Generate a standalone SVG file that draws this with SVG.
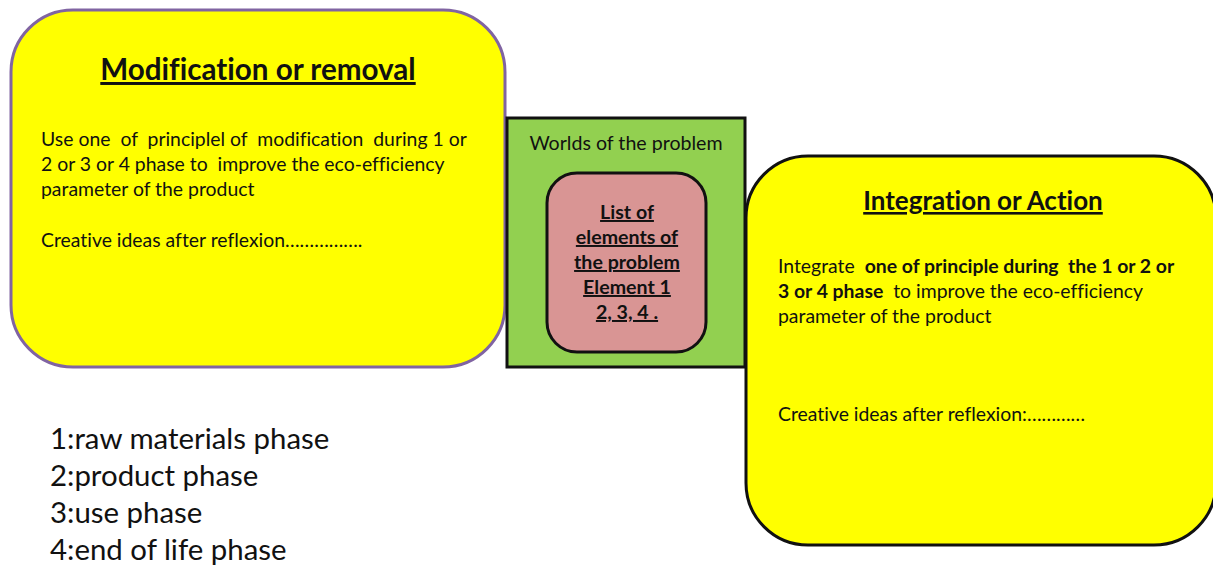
<svg xmlns="http://www.w3.org/2000/svg" width="1213" height="566" viewBox="0 0 1213 566">
<style>
text{font-family:Lato,"Open Sans","Liberation Sans",sans-serif;fill:#111;font-variant-ligatures:none}
.body{font-size:19.4px}
.ttl{font-weight:bold;text-decoration:underline}
.pk{font-size:19.6px;font-weight:bold;text-decoration:underline;text-anchor:middle}
.leg{font-size:29.4px}
</style>
<rect width="1213" height="566" fill="#fff"/>
<g id="modification">
<rect x="11" y="10" width="494" height="357" rx="62" fill="#ffff00" stroke="#8064a2" stroke-width="3"/>
<text x="258" y="80" class="ttl" font-size="29.6" text-anchor="middle">Modification or removal</text>
<text class="body"><tspan x="41" y="146" xml:space="preserve">Use one  of  principlel of  modification  during 1 or</tspan><tspan x="41" y="171" xml:space="preserve">2 or 3 or 4 phase to  improve the eco-efficiency</tspan><tspan x="41" y="196">parameter of the product</tspan><tspan x="41" y="247">Creative ideas after reflexion…………….</tspan></text>
</g>
<g id="worlds">
<rect x="507" y="118" width="238" height="249" fill="#92d050" stroke="#111" stroke-width="3"/>
<text x="626" y="150" font-size="19.6" text-anchor="middle">Worlds of the problem</text>
</g>
<g id="elements">
<rect x="547" y="173" width="159" height="179" rx="30" fill="#d99594" stroke="#111" stroke-width="3"/>
<text class="pk"><tspan x="627" y="219">List of</tspan><tspan x="627" y="244">elements of</tspan><tspan x="627" y="269">the problem</tspan><tspan x="627" y="294">Element 1</tspan><tspan x="627" y="319">2, 3, 4 .</tspan></text>
</g>
<g id="integration">
<rect x="746" y="156" width="470" height="389" rx="62" fill="#ffff00" stroke="#111" stroke-width="3"/>
<text x="983" y="210" class="ttl" font-size="26" text-anchor="middle">Integration or Action</text>
<text class="body" xml:space="preserve"><tspan x="778" y="273">Integrate  <tspan font-weight="bold">one of principle during  the 1 or 2 or</tspan></tspan><tspan x="778" y="298"><tspan font-weight="bold">3 or 4 phase</tspan>  to improve the eco-efficiency</tspan><tspan x="778" y="323">parameter of the product</tspan><tspan x="778" y="421">Creative ideas after reflexion:…………</tspan></text>
</g>
<g id="legend">
<text class="leg"><tspan x="50" y="449">1:raw materials phase</tspan><tspan x="50" y="486">2:product phase</tspan><tspan x="50" y="523">3:use phase</tspan><tspan x="50" y="560">4:end of life phase</tspan></text>
</g>
<g id="connectors"/>
</svg>
